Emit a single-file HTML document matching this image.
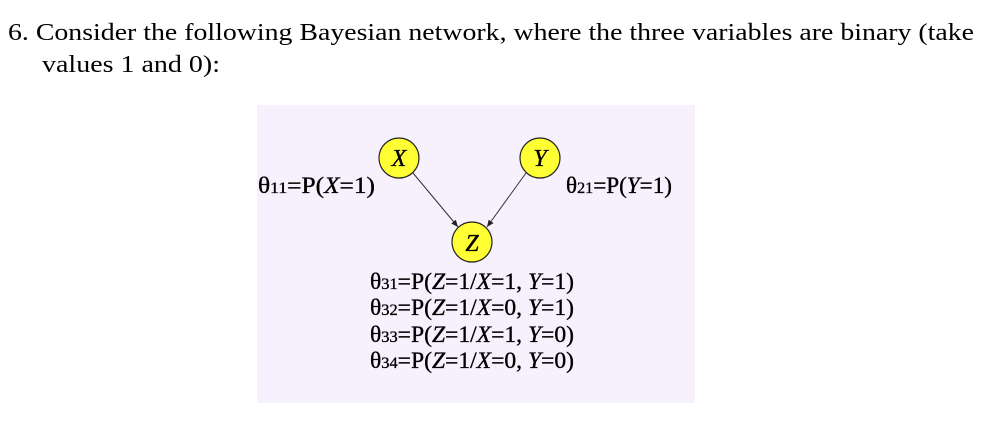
<!DOCTYPE html>
<html><head><meta charset="utf-8"><style>
html,body{margin:0;padding:0;background:#fff;}
svg{display:block;font-family:"Liberation Serif",serif;}
.lab{stroke:#000;stroke-width:0.35;}
</style></head><body>
<svg width="990" height="428" viewBox="0 0 990 428">
<defs><marker id="ah" markerWidth="8" markerHeight="8" refX="7" refY="4" orient="auto"><path d="M0,1 L7,4 L0,7 z" fill="#222"/></marker></defs>
<text x="8" y="40" font-size="24" textLength="966" lengthAdjust="spacingAndGlyphs">6. Consider the following Bayesian network, where the three variables are binary (take</text>
<text x="42" y="72" font-size="24" textLength="178" lengthAdjust="spacingAndGlyphs">values 1 and 0):</text>
<rect x="257" y="105" width="438" height="298" fill="#f6f1fc"/>
<line x1="413" y1="173" x2="458" y2="227" stroke="#333" stroke-width="1" marker-end="url(#ah)"/>
<line x1="526" y1="173" x2="487" y2="227" stroke="#333" stroke-width="1" marker-end="url(#ah)"/>
<g><circle cx="399" cy="158" r="20" fill="#ffff33" stroke="#222" stroke-width="1.2"/><text class="lab" x="399" y="166" font-size="24" font-style="italic" text-anchor="middle">X</text></g>
<g><circle cx="540" cy="158" r="20" fill="#ffff33" stroke="#222" stroke-width="1.2"/><text class="lab" x="540" y="166" font-size="24" font-style="italic" text-anchor="middle">Y</text></g>
<g><circle cx="472" cy="242" r="20" fill="#ffff33" stroke="#222" stroke-width="1.2"/><text class="lab" x="472" y="251" font-size="24" font-style="italic" text-anchor="middle">Z</text></g>
<text class="lab" x="258" y="193" font-size="23" textLength="117" lengthAdjust="spacingAndGlyphs">θ<tspan font-size="16">11</tspan>=P(<tspan font-style="italic">X</tspan>=1)</text>
<text class="lab" x="566" y="193" font-size="23" textLength="106" lengthAdjust="spacingAndGlyphs">θ<tspan font-size="16">21</tspan>=P(<tspan font-style="italic">Y</tspan>=1)</text>
<text class="lab" x="370" y="289" font-size="23" textLength="204" lengthAdjust="spacingAndGlyphs">θ<tspan font-size="16">31</tspan>=P(<tspan font-style="italic">Z</tspan>=1/<tspan font-style="italic">X</tspan>=1, <tspan font-style="italic">Y</tspan>=1)</text>
<text class="lab" x="370" y="315" font-size="23" textLength="204" lengthAdjust="spacingAndGlyphs">θ<tspan font-size="16">32</tspan>=P(<tspan font-style="italic">Z</tspan>=1/<tspan font-style="italic">X</tspan>=0, <tspan font-style="italic">Y</tspan>=1)</text>
<text class="lab" x="370" y="342" font-size="23" textLength="204" lengthAdjust="spacingAndGlyphs">θ<tspan font-size="16">33</tspan>=P(<tspan font-style="italic">Z</tspan>=1/<tspan font-style="italic">X</tspan>=1, <tspan font-style="italic">Y</tspan>=0)</text>
<text class="lab" x="370" y="368" font-size="23" textLength="204" lengthAdjust="spacingAndGlyphs">θ<tspan font-size="16">34</tspan>=P(<tspan font-style="italic">Z</tspan>=1/<tspan font-style="italic">X</tspan>=0, <tspan font-style="italic">Y</tspan>=0)</text>
</svg>
</body></html>
